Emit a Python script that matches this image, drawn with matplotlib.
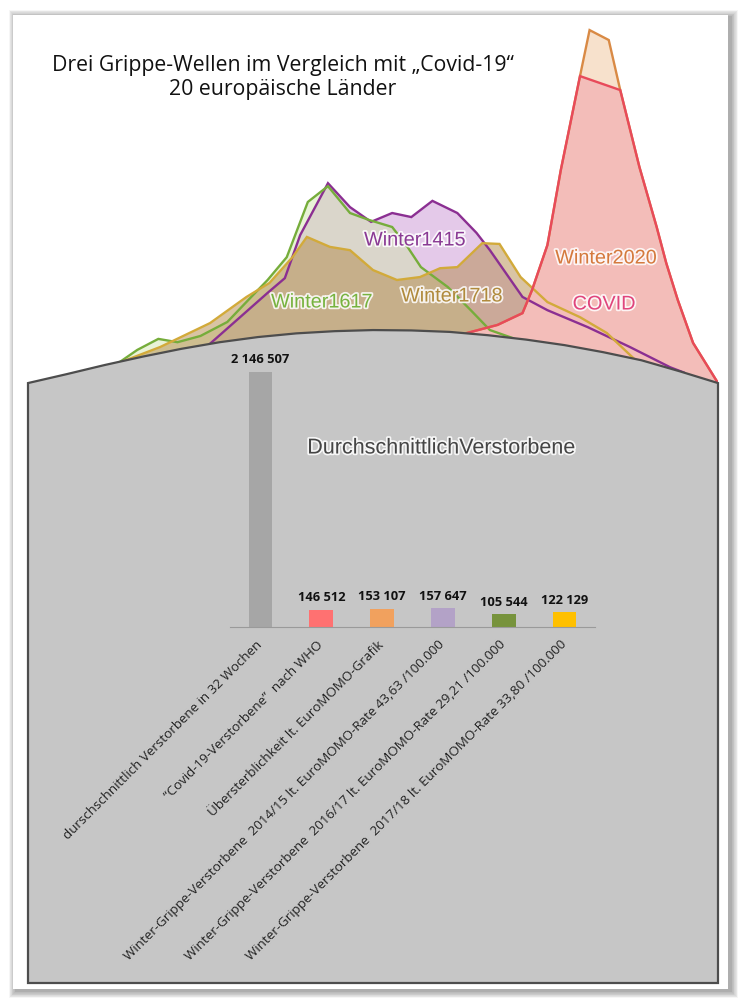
import matplotlib
matplotlib.use('agg')

import matplotlib.pyplot as plt
import matplotlib.patheffects as pe
from matplotlib.patches import Rectangle, Polygon
from matplotlib.transforms import ScaledTranslation

W, H = 748, 1006

# --- wave data: week index vs. mortality level (0 = edge of the grey arc) ---
arc_weeks = [0, 2, 4, 6, 8, 10, 12, 14, 16, 18, 20, 22, 24, 26, 28, 30, 32, 34, 36]
arc_level = [0, 2.4, 4.9, 7.2, 9.3, 11.1, 12.5, 13.5, 14.1, 14.4, 14.3, 13.9, 13.0,
             11.8, 10.3, 8.4, 6.2, 3.2, 0]

w1415_weeks = [9.5, 12.5, 13.4, 14.2, 15.65, 16.8, 17.9, 19.0, 20.0, 21.1, 22.4, 23.4,
               24.1, 25.8, 27.1, 29.2, 31.4, 33.5, 34.2]
w1415_level = [10.7, 24.5, 28.5, 40.2, 54.3, 47.8, 43.8, 46.2, 45.1, 49.5, 46.2, 40.8,
               36.1, 23.4, 19.8, 15.2, 9.8, 4.3, 2.9]

w1617_weeks = [4.7, 5.7, 6.8, 7.8, 9.0, 10.4, 11.5, 12.5, 13.5, 14.6, 15.65, 16.8,
               17.8, 19.0, 19.8, 20.5, 21.9, 23.1, 24.1, 25.3]
w1617_level = [5.4, 9.0, 12.0, 11.1, 12.8, 16.6, 22.6, 28.0, 34.2, 49.2, 53.5, 46.2,
               44.3, 42.4, 37.0, 31.5, 26.1, 19.8, 14.4, 12.2]

w1718_weeks = [5.0, 6.9, 9.5, 11.4, 12.6, 13.8, 14.55, 15.75, 16.8, 18.0, 19.25, 20.45,
               21.5, 22.4, 23.7, 24.6, 25.7, 27.1, 28.8, 30.2, 31.6]
w1718_level = [6.0, 9.8, 16.3, 23.4, 27.2, 34.2, 39.7, 37.0, 36.1, 30.7, 28.0, 28.8,
               31.2, 31.5, 38.0, 37.8, 28.8, 22.0, 17.9, 13.6, 6.7]

w2020_weeks = [22.9, 24.5, 25.8, 26.3, 27.1, 27.8, 28.8, 29.3, 30.3, 30.9, 31.9, 32.8,
               33.3, 33.9, 34.7, 36.0]
w2020_level = [13.6, 15.8, 19.0, 25.3, 37.5, 57.9, 83.4, 95.9, 93.2, 79.6, 58.7, 42.4,
               32.6, 22.6, 10.9, 0]

covid_weeks = [22.9, 24.5, 25.8, 26.3, 27.1, 27.8, 28.8, 30.9, 31.9, 32.8, 33.3, 33.9,
               34.7, 36.0]
covid_level = [13.6, 15.8, 19.0, 25.3, 37.5, 57.9, 83.4, 79.6, 58.7, 42.4, 32.6, 22.6,
               10.9, 0]

# --- bar data ---
bar_labels = [
    'durschschnittlich Verstorbene in 32 Wochen',
    '\u201cCovid-19-Verstorbene\u201d  nach WHO',
    '\u00dcbersterblichkeit lt. EuroMOMO-Grafik',
    'Winter-Grippe-Verstorbene  2014/15 lt. EuroMOMO-Rate 43,63 /100.000',
    'Winter-Grippe-Verstorbene  2016/17 lt. EuroMOMO-Rate 29,21 /100.000',
    'Winter-Grippe-Verstorbene  2017/18 lt. EuroMOMO-Rate 33,80 /100.000',
]
bar_values = [2146507, 146512, 153107, 157647, 105544, 122129]
bar_colors = ['#a6a6a6', '#ff7171', '#f1a15e', '#b3a2c7', '#77933c', '#ffc000']


def fxy(x, y):
    return x / W, 1 - y / H


fig = plt.figure(figsize=(W / 100, H / 100), dpi=100)

# background card with a soft shadow
bg = fig.add_axes([0, 0, 1, 1])
bg.set_xlim(0, W)
bg.set_ylim(H, 0)
bg.axis('off')
for k in range(10, 0, -1):
    bg.add_patch(Rectangle((13 - k * 0.7 + 3, 15 - k * 0.7 + 2), 715 + k * 1.4, 974 + k * 1.4,
                           fc='#000000', ec='none', alpha=0.035))
bg.add_patch(Rectangle((13, 15), 715, 974, fc='white', ec='none'))

# waves + grey body
ax = fig.add_axes([28 / W, 1 - 983 / H, 690 / W, 968 / H])
ax.set_xlim(0, 36)
ax.set_ylim(-163.0, 100)
ax.axis('off')
ax.patch.set_alpha(0)

waves = [
    (w1415_weeks, w1415_level, '#dcb7e2', 0.75, '#8b2f92'),
    (w1617_weeks, w1617_level, '#cfe6a8', 0.45, '#76ad3b'),
    (w1718_weeks, w1718_level, '#b48a4a', 0.5, '#d2aa3a'),
    (w2020_weeks, w2020_level, '#f7e1cc', 1.0, '#d98a45'),
    (covid_weeks, covid_level, '#f093a2', 0.45, '#e84a5a'),
]
for weeks, level, fc, a, lc in waves:
    ax.fill_between(weeks, level, 0, color=fc, alpha=a, lw=0, zorder=2)
    ax.plot(weeks, level, color=lc, lw=1.7, zorder=3, solid_joinstyle='miter')

body = list(zip(arc_weeks, arc_level)) + [(36, -163.0), (0, -163.0)]
ax.add_patch(Polygon(body, closed=True, fc='#c6c6c6', ec='#4d4d4d', lw=1.6,
                     zorder=5, clip_on=False))

# bar chart inside the grey body
bx = fig.add_axes([230 / W, 1 - 627 / H, 365 / W, 287 / H])
bx.patch.set_alpha(0)
x = range(len(bar_values))
bx.bar(x, bar_values, width=0.39, color=bar_colors)
bx.set_xlim(-0.5, 5.5)
bx.set_ylim(0, max(bar_values) * 287 / 255)
for s in ['top', 'right', 'left']:
    bx.spines[s].set_visible(False)
bx.spines['bottom'].set_color('#9a9a9a')
bx.set_yticks([])
bx.set_xticks(list(x))
bx.set_xticklabels(bar_labels, rotation=45, ha='right', va='top', rotation_mode='anchor',
                   fontsize=9.6, family='Open Sans', color='#222222')
bx.tick_params(axis='x', length=0, pad=8)
shift = ScaledTranslation(-5 / 100, 0, fig.dpi_scale_trans)
for lab in bx.get_xticklabels():
    lab.set_transform(lab.get_transform() + shift)
for i, v in enumerate(bar_values):
    bx.annotate(f'{v:,}'.replace(',', ' '), (i, v), xytext=(0, 4), textcoords='offset points',
                ha='center', va='bottom', fontsize=9.3, fontweight='bold',
                family='Open Sans', color='#111111')

# texts
fig.text(*fxy(283, 65), 'Drei Grippe-Wellen im Vergleich mit \u201eCovid-19\u201c',
         ha='center', va='center', fontsize=15.3, family='Open Sans', color='#111111')
fig.text(*fxy(283, 90), '20 europäische Länder',
         ha='center', va='center', fontsize=15.3, family='Open Sans', color='#111111')

halo = [pe.withStroke(linewidth=2.5, foreground='white', alpha=0.85)]
wave_names = [('Winter1415', 415, 240, '#8a3a94'),
              ('Winter1617', 322, 302, '#77b23f'),
              ('Winter1718', 452, 296, '#b08a3c'),
              ('Winter2020', 606, 258, '#d5793d'),
              ('COVID', 604, 304, '#e0457c')]
for name, px, py, c in wave_names:
    fig.text(*fxy(px, py), name, ha='center', va='center', fontsize=14.3,
             family='Liberation Sans', color=c, path_effects=halo)

fig.text(*fxy(441, 448), 'DurchschnittlichVerstorbene', ha='center', va='center',
         fontsize=15.5, family='Liberation Sans', color='#454545', path_effects=halo)

fig.savefig('out.png', dpi=100)
